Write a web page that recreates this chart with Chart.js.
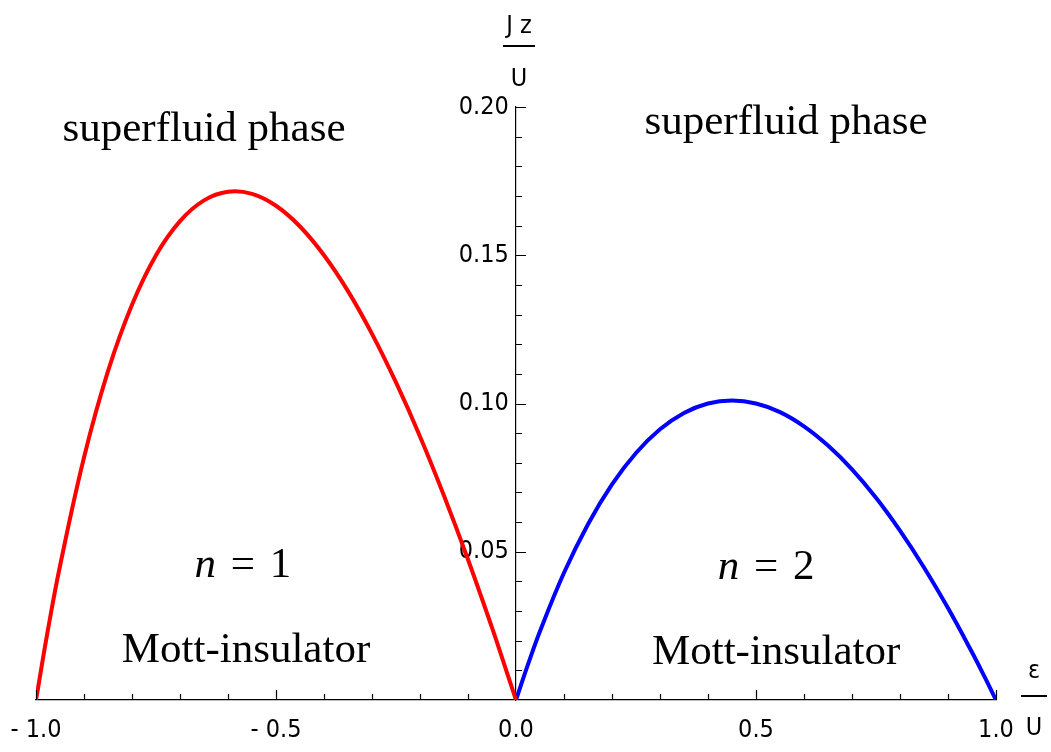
<!DOCTYPE html>
<html lang="en">
<head>
    <meta charset="UTF-8">
    <title>Mott lobes</title>
    <script src="https://cdn.jsdelivr.net/npm/chart.js"></script>
    <style>
        html, body { margin: 0; background: #ffffff; }
        #wrap { width: 1051px; height: 752px; }
    </style>
</head>
<body>
    <div id="wrap"><canvas id="lobes"></canvas></div>
    <script>
        // n = 1 lobe (red)
        const redX = [-1, -0.975, -0.95, -0.9, -0.85, -0.8, -0.75, -0.7, -0.65, -0.6, -0.55, -0.5,
                      -0.45, -0.4, -0.35, -0.3, -0.25, -0.2, -0.15, -0.1, -0.05, -0.025, 0];
        const redY = [0, 0.0238, 0.0452, 0.0818, 0.1109, 0.1333, 0.15, 0.1615, 0.1685, 0.1714, 0.1707, 0.1667,
                      0.1597, 0.15, 0.1379, 0.1235, 0.1071, 0.0889, 0.0689, 0.0474, 0.0244, 0.0123, 0];

        // n = 2 lobe (blue)
        const blueX = [0, 0.025, 0.05, 0.1, 0.15, 0.2, 0.25, 0.3, 0.35, 0.4, 0.45, 0.5,
                       0.55, 0.6, 0.65, 0.7, 0.75, 0.8, 0.85, 0.9, 0.95, 0.975, 1];
        const blueY = [0, 0.0120, 0.0232, 0.0429, 0.0593, 0.0727, 0.0833, 0.0913, 0.0968, 0.1, 0.1010, 0.1,
                       0.0971, 0.0923, 0.0858, 0.0778, 0.0682, 0.0571, 0.0447, 0.0310, 0.0161, 0.0082, 0];

        const xTickValues = [-1, -0.5, 0, 0.5, 1];
        const yTickValues = [0.05, 0.10, 0.15, 0.20];

        // texts placed on the plot (data coordinates)
        const phaseLabels = ['superfluid phase', 'superfluid phase'];
        const phaseX = [-0.65, 0.5625];
        const phaseY = [0.1925, 0.1948];
        const mottLabels = ['Mott-insulator', 'Mott-insulator'];
        const mottX = [-0.5625, 0.542];
        const mottY = [0.0166, 0.0158];
        const occupation = ['1', '2'];
        const occX = [-0.569, 0.521];
        const occY = [0.0452, 0.0445];

        const serif = '"Liberation Serif", "DejaVu Serif", serif';
        const sans = '"DejaVu Sans Condensed", "DejaVu Sans", sans-serif';

        const toPts = (xs, ys) => xs.map((x, i) => ({ x: x, y: ys[i] }));

        // the crossing axes should not eat into the plot area
        const noRoom = (scale) => {
            if (scale.isHorizontal()) scale.height = 0; else scale.width = 0;
            scale.paddingLeft = scale.paddingRight = scale.paddingTop = scale.paddingBottom = 0;
        };

        // ticks pointing inwards, majors longer
        const innerTicks = {
            id: 'innerTicks',
            afterDatasetsDraw(chart) {
                const ctx = chart.ctx;
                const xs = chart.scales.x, ys = chart.scales.y;
                const x0 = xs.getPixelForValue(0), y0 = ys.getPixelForValue(0);
                ctx.save();
                ctx.strokeStyle = '#000';
                ctx.lineWidth = 1.2;
                ctx.beginPath();
                for (let i = -10; i <= 10; i++) {
                    if (i === 0) continue;
                    const px = Math.round(xs.getPixelForValue(i / 10)) + 0.5;
                    const len = i % 5 === 0 ? 10 : 6;
                    ctx.moveTo(px, y0);
                    ctx.lineTo(px, y0 - len);
                }
                for (let i = 1; i <= 20; i++) {
                    const py = Math.round(ys.getPixelForValue(i / 100)) + 0.5;
                    const len = i % 5 === 0 ? 10 : 6;
                    ctx.moveTo(x0, py);
                    ctx.lineTo(x0 + len, py);
                }
                ctx.stroke();
                ctx.restore();
            }
        };

        // axis titles as fractions + the phase texts
        const notes = {
            id: 'notes',
            afterDraw(chart) {
                const ctx = chart.ctx;
                const xs = chart.scales.x, ys = chart.scales.y;
                const x0 = xs.getPixelForValue(0), y0 = ys.getPixelForValue(0);
                const xEnd = xs.getPixelForValue(1), yTop = ys.getPixelForValue(0.2);
                ctx.save();
                ctx.fillStyle = '#000';
                ctx.strokeStyle = '#000';
                ctx.textAlign = 'center';
                ctx.textBaseline = 'alphabetic';

                // Jz / U
                ctx.font = '25px ' + sans;
                const fx = x0 + 3;
                ctx.fillText('J z', fx, yTop - 74);
                ctx.lineWidth = 2;
                ctx.beginPath();
                ctx.moveTo(fx - 16, yTop - 61);
                ctx.lineTo(fx + 16, yTop - 61);
                ctx.stroke();
                ctx.fillText('U', fx, yTop - 21);

                // ε / U
                const ex = xEnd + 38;
                ctx.fillText('ε', ex, y0 - 22);
                ctx.beginPath();
                ctx.moveTo(ex - 13, y0 - 4);
                ctx.lineTo(ex + 13, y0 - 4);
                ctx.stroke();
                ctx.fillText('U', ex, y0 + 35);

                ctx.textBaseline = 'middle';
                ctx.font = '43px ' + serif;
                phaseLabels.forEach((t, i) => {
                    ctx.fillText(t, xs.getPixelForValue(phaseX[i]), ys.getPixelForValue(phaseY[i]));
                });
                mottLabels.forEach((t, i) => {
                    ctx.fillText(t, xs.getPixelForValue(mottX[i]), ys.getPixelForValue(mottY[i]));
                });

                // n = k, italic n
                occupation.forEach((k, i) => {
                    ctx.font = 'italic 43px ' + serif;
                    const wn = ctx.measureText('n').width;
                    ctx.font = '43px ' + serif;
                    const rest = ' = ' + k;
                    const gap = 4;
                    const wr = ctx.measureText(rest).width + 2 * gap;
                    const cx = xs.getPixelForValue(occX[i]);
                    const cy = ys.getPixelForValue(occY[i]);
                    const left = cx - (wn + wr) / 2;
                    ctx.textAlign = 'left';
                    ctx.font = 'italic 43px ' + serif;
                    ctx.fillText('n', left, cy);
                    ctx.font = '43px ' + serif;
                    ctx.fillText(' =', left + wn + gap, cy);
                    const wEq = ctx.measureText(' =').width;
                    ctx.fillText(' ' + k, left + wn + gap + wEq + gap, cy);
                    ctx.textAlign = 'center';
                });
                ctx.restore();
            }
        };

        const ctx = document.getElementById('lobes').getContext('2d');
        const lobesChart = new Chart(ctx, {
            type: 'line',
            data: {
                datasets: [
                    {
                        label: 'n = 1',
                        data: toPts(redX, redY),
                        borderColor: '#ff0000',
                        borderWidth: 4,
                        pointRadius: 0,
                        fill: false,
                        tension: 0.4
                    },
                    {
                        label: 'n = 2',
                        data: toPts(blueX, blueY),
                        borderColor: '#0000ff',
                        borderWidth: 4,
                        pointRadius: 0,
                        fill: false,
                        tension: 0.4
                    }
                ]
            },
            options: {
                responsive: true,
                maintainAspectRatio: false,
                animation: false,
                layout: { padding: { left: 36, right: 55, top: 107, bottom: 52 } },
                plugins: { legend: { display: false }, tooltip: { enabled: false } },
                scales: {
                    x: {
                        type: 'linear',
                        position: { y: 0 },
                        min: -1,
                        max: 1,
                        afterBuildTicks: (axis) => { axis.ticks = xTickValues.map(v => ({ value: v })); },
                        afterFit: noRoom,
                        ticks: {
                            color: '#000',
                            font: { family: sans, size: 25 },
                            padding: 15,
                            maxRotation: 0,
                            callback: (v) => (v < 0 ? '- ' + Math.abs(v).toFixed(1) : v.toFixed(1))
                        },
                        grid: { display: true, drawOnChartArea: false, drawTicks: false },
                        border: { display: true, color: '#000', width: 1.2 }
                    },
                    y: {
                        type: 'linear',
                        position: { x: 0 },
                        min: 0,
                        max: 0.2,
                        afterBuildTicks: (axis) => { axis.ticks = yTickValues.map(v => ({ value: v })); },
                        afterFit: noRoom,
                        ticks: {
                            color: '#000',
                            font: { family: sans, size: 25 },
                            // centred axis ignores padding, a trailing space keeps the gap
                            callback: (v) => v.toFixed(2) + ' '
                        },
                        grid: { display: true, drawOnChartArea: false, drawTicks: false },
                        border: { display: true, color: '#000', width: 1.2 }
                    }
                }
            },
            plugins: [innerTicks, notes]
        });
    </script>
</body>
</html>
